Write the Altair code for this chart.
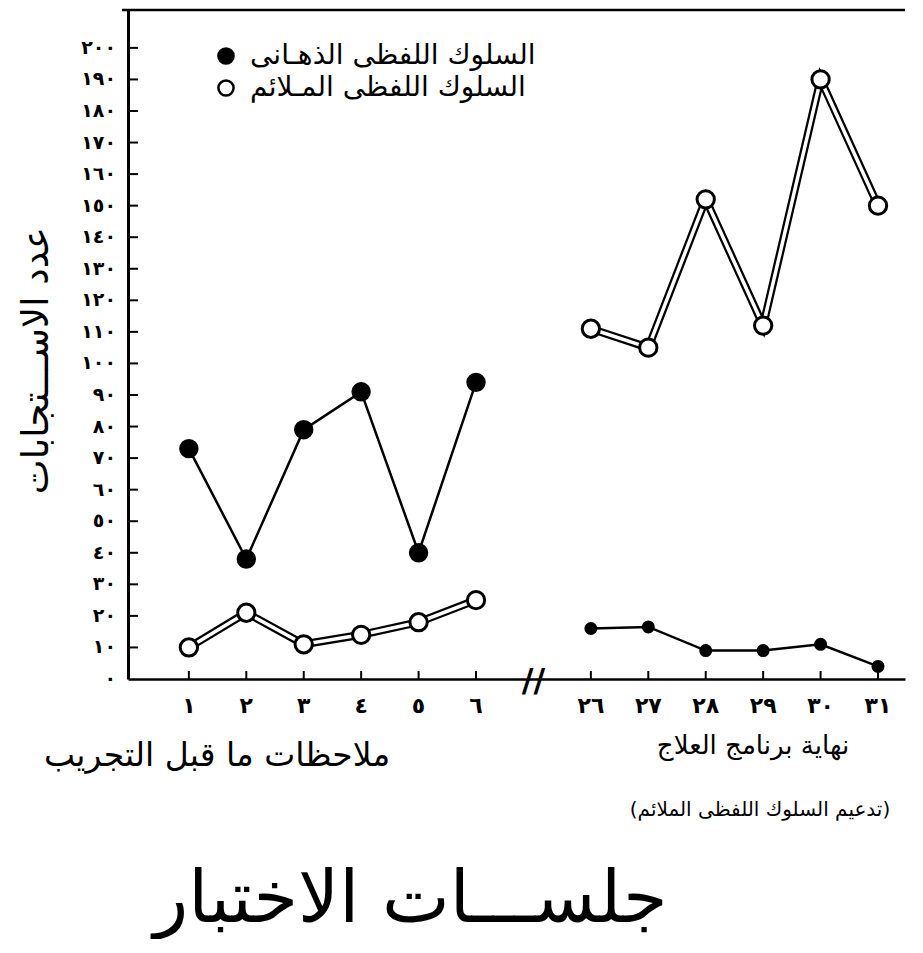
import altair as alt
import pandas as pd

# ---------------- data ----------------
slot_pre = [1, 2, 3, 4, 5, 6]
slot_post = [8, 9, 10, 11, 12, 13]
break_slot = [7]
break_label = ["//"]
session_labels_pre = ["١", "٢", "٣", "٤", "٥", "٦"]
session_labels_post = ["٢٦", "٢٧", "٢٨", "٢٩", "٣٠", "٣١"]

psychotic_pre = [73, 38, 79, 91, 40, 94]
psychotic_post = [16, 16.5, 9, 9, 11, 4]
appropriate_pre = [10, 21, 11, 14, 18, 25]
appropriate_post = [111, 105, 152, 112, 190, 150]

y_ticks = [0, 10, 20, 30, 40, 50, 60, 70, 80, 90, 100,
           110, 120, 130, 140, 150, 160, 170, 180, 190, 200]
y_tick_labels = ["٠", "١٠", "٢٠", "٣٠", "٤٠", "٥٠", "٦٠", "٧٠", "٨٠", "٩٠", "١٠٠",
                 "١١٠", "١٢٠", "١٣٠", "١٤٠", "١٥٠", "١٦٠", "١٧٠", "١٨٠", "١٩٠", "٢٠٠"]

series_names = ["السلوك اللفظى الذهـانى", "السلوك اللفظى المـلائم"]
phase_pre_text = ["ملاحظات ما قبل التجريب"]
phase_post_text = ["نهاية برنامج العلاج"]
phase_post_note = ["(تدعيم السلوك اللفظى الملائم)"]
x_title = "جلســـات الاختبار"
y_title = "عدد الاســـتجابات"

# ---------------- tables ----------------
rows = []
for s, v in zip(slot_pre, psychotic_pre):
    rows.append({"slot": s, "value": v, "series": series_names[0], "phase": "pre"})
for s, v in zip(slot_post, psychotic_post):
    rows.append({"slot": s, "value": v, "series": series_names[0], "phase": "post"})
for s, v in zip(slot_pre, appropriate_pre):
    rows.append({"slot": s, "value": v, "series": series_names[1], "phase": "pre"})
for s, v in zip(slot_post, appropriate_post):
    rows.append({"slot": s, "value": v, "series": series_names[1], "phase": "post"})
df = pd.DataFrame(rows)
df_psy = df[df.series == series_names[0]]
df_app = df[df.series == series_names[1]]
df_psy_pre = df_psy[df_psy.phase == "pre"]
df_psy_post = df_psy[df_psy.phase == "post"]

xdf = pd.DataFrame({"slot": slot_pre + slot_post, "lab": session_labels_pre + session_labels_post})
ydf = pd.DataFrame({"tick": y_ticks, "lab": y_tick_labels})
bdf = pd.DataFrame({"slot": break_slot, "lab": break_label})

W, H = 777, 669
FONT = "DejaVu Sans"

xscale = alt.Scale(domain=[-0.06, 13.47], nice=False, zero=False)
yscale = alt.Scale(domain=[0, 212], nice=False)

x_axis = alt.Axis(labels=False, ticks=False, grid=False, domainColor="black", domainWidth=2.5,
                  title=x_title, titleFont=FONT, titleFontSize=72, titleFontWeight="normal",
                  titleColor="black", titleX=282, titleY=220, titleAlign="center",
                  titleBaseline="middle")
y_axis = alt.Axis(labels=False, ticks=False, grid=False, domainColor="black", domainWidth=3,
                  title=y_title, titleFont=FONT, titleFontSize=37, titleFontWeight="normal",
                  titleColor="black", titleX=-92, titleY=350, titleAlign="center",
                  titleBaseline="middle")

X = alt.X("slot:Q", scale=xscale, axis=x_axis)
Y = alt.Y("value:Q", scale=yscale, axis=y_axis)

fill_enc = alt.Fill(
    "series:N", scale=alt.Scale(domain=series_names, range=["black", "white"]),
    legend=alt.Legend(title=None, orient="none", legendX=84, legendY=32,
                      labelFont=FONT, labelFontSize=28, labelColor="black",
                      labelLimit=0,
                      symbolType="circle", symbolSize=230,
                      symbolStrokeColor="black", symbolStrokeWidth=2.5,
                      rowPadding=4, labelOffset=10))

line_psy = alt.Chart(df_psy).mark_line(color="black", strokeWidth=2.5).encode(
    x=X, y=Y, detail="phase:N")
line_app_outer = alt.Chart(df_app).mark_line(color="black", strokeWidth=8).encode(
    x=X, y=Y, detail="phase:N")
line_app_inner = alt.Chart(df_app).mark_line(color="white", strokeWidth=3.5).encode(
    x=X, y=Y, detail="phase:N")

def pts(data, size):
    return alt.Chart(data).mark_point(filled=True, opacity=1, stroke="black", strokeWidth=3,
                                      shape="circle", size=size).encode(x=X, y=Y, fill=fill_enc)

points_psy_pre = pts(df_psy_pre, 270)
points_psy_post = pts(df_psy_post, 100)
points_app = pts(df_app, 300)

y_tick_rules = alt.Chart(ydf[ydf.tick > 0]).mark_rule(color="black", strokeWidth=2).encode(
    y=alt.Y("tick:Q", scale=yscale, axis=y_axis), x=alt.value(0), x2=alt.value(10))
y_tick_text = alt.Chart(ydf).mark_text(font=FONT, fontSize=19, fontWeight="bold", align="right",
                                       baseline="middle", color="black").encode(
    y=alt.Y("tick:Q", scale=yscale, axis=y_axis), x=alt.value(-12), text="lab:N")

x_tick_rules = alt.Chart(xdf).mark_rule(color="black", strokeWidth=2).encode(
    x=alt.X("slot:Q", scale=xscale, axis=x_axis), y=alt.value(H), y2=alt.value(H - 8))
x_tick_text = alt.Chart(xdf).mark_text(font=FONT, fontSize=22, fontWeight="bold", align="center",
                                       baseline="middle", color="black").encode(
    x=alt.X("slot:Q", scale=xscale, axis=x_axis), y=alt.value(H + 27), text="lab:N")
break_text = alt.Chart(bdf).mark_text(font=FONT, fontSize=32, fontWeight="bold", align="center",
                                      baseline="middle", color="black").encode(
    x=alt.X("slot:Q", scale=xscale, axis=x_axis), y=alt.value(H + 2), text="lab:N")

top_rule = alt.Chart(pd.DataFrame({"k": [0]})).mark_rule(color="black", strokeWidth=2.5).encode(
    x=alt.value(-6), x2=alt.value(W), y=alt.value(0))

def label(texts, size, x, y):
    return alt.Chart(pd.DataFrame({"t": texts})).mark_text(
        font=FONT, fontSize=size, align="center", baseline="middle", color="black", dir="rtl"
    ).encode(text="t:N", x=alt.value(x), y=alt.value(y))

pre_lab = label(phase_pre_text, 33, 89, 746)
post_lab = label(phase_post_text, 26, 625, 736)
post_note = label(phase_post_note, 20, 632, 800)

chart = alt.layer(
    top_rule, y_tick_rules, x_tick_rules, line_psy, line_app_outer, line_app_inner,
    points_psy_pre, points_psy_post, points_app,
    y_tick_text, x_tick_text, break_text, pre_lab, post_lab, post_note
).properties(
    width=W, height=H,
    autosize=alt.AutoSizeParams(type="none"),
    padding={"left": 120, "top": 2, "right": 10, "bottom": 260},
).configure_view(stroke=None)

chart.save("out.html", embed_options={"renderer": "svg", "actions": False})
